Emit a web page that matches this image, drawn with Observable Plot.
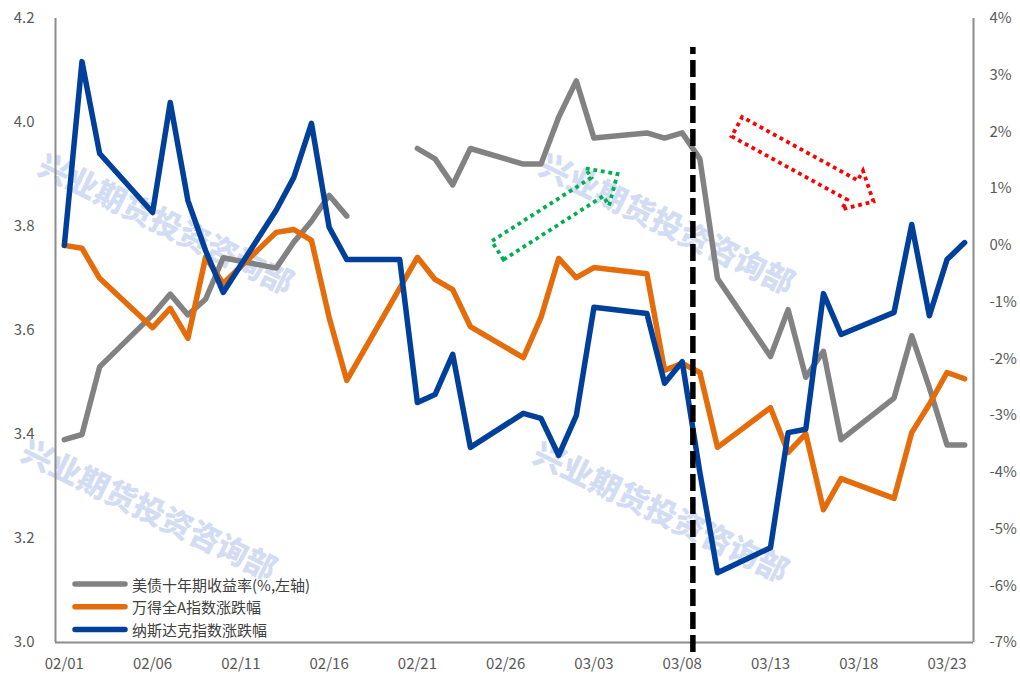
<!DOCTYPE html>
<html><head><meta charset="utf-8">
<script src="https://cdn.jsdelivr.net/npm/d3@7"></script>
<script src="https://cdn.jsdelivr.net/npm/@observablehq/plot@0.6"></script>
<style>
html,body{margin:0;padding:0;background:#fff;}
#chart{position:relative;width:1020px;height:677px;overflow:hidden;}
</style></head><body><div id="chart"></div>
<script>
// ---- data (2023) ----
const dates = ["02/01","02/02","02/03","02/06","02/07","02/08","02/09","02/10","02/13","02/14","02/15","02/16","02/17","02/20","02/21","02/22","02/23","02/24","02/27","02/28","03/01","03/02","03/03","03/06","03/07","03/08","03/09","03/10","03/13","03/14","03/15","03/16","03/17","03/20","03/21","03/22","03/23","03/24"];
// 美债十年期收益率 (%, left axis)
const yield10y = [3.39,3.40,3.53,3.63,3.67,3.63,3.66,3.74,3.72,3.77,3.81,3.86,3.82,null,3.95,3.93,3.88,3.95,3.92,3.92,4.01,4.08,3.97,3.98,3.97,3.98,3.93,3.70,3.55,3.64,3.51,3.56,3.39,3.47,3.59,3.49,3.38,3.38];
// 万得全A指数涨跌幅 (%, right axis)
const windA = [0.00,-0.05,-0.58,-1.45,-1.11,-1.64,-0.21,-0.67,0.23,0.28,0.09,-1.27,-2.38,null,-0.21,-0.60,-0.78,-1.43,-1.98,-1.27,-0.23,-0.57,-0.39,-0.50,-2.20,-2.08,-2.24,-3.56,-2.86,-3.65,-3.32,-4.66,-4.11,-4.46,-3.30,-2.80,-2.24,-2.35];
// 纳斯达克指数涨跌幅 (%, right axis)
const nasdaq = [0.00,3.24,1.62,0.58,2.52,0.79,-0.09,-0.83,0.62,1.20,2.15,0.32,-0.25,-0.25,-2.77,-2.63,-1.92,-3.56,-2.96,-3.05,-3.70,-3.00,-1.09,-1.20,-2.43,-2.05,-4.00,-5.77,-5.33,-3.30,-3.24,-0.85,-1.57,-1.18,0.37,-1.24,-0.25,0.05];
const xTicks = ["02/01","02/06","02/11","02/16","02/21","02/26","03/03","03/08","03/13","03/18","03/23"];
const leftTicks = [3.0,3.2,3.4,3.6,3.8,4.0,4.2];
const rightTicks = [-7,-6,-5,-4,-3,-2,-1,0,1,2,3,4];
const seriesNames = ["美债十年期收益率(%,左轴)","万得全A指数涨跌幅","纳斯达克指数涨跌幅"];
const seriesColors = ["#828282","#E46C0A","#00409A"];
const eventLine = ["2023-03-08T14:30Z"];
const arrows = [
  {from:["2023-02-25T13:40Z",3.753], to:["2023-03-04T08:40Z",3.900], color:"#00B050"},
  {from:["2023-03-11T03:00Z",3.991], to:["2023-03-18T20:40Z",3.847], color:"#FF0000"}
];
const watermark = "兴业期货投资咨询部";

// ---- helpers ----
const parse = s => { const [m,d] = s.split("/").map(Number); return new Date(Date.UTC(2023, m-1, d)); };
const L0 = 3.0, L1 = 4.2, R0 = -7, R1 = 4;
const toLeft = p => L0 + (p - R0) * (L1 - L0) / (R1 - R0);
const toRight = v => Math.round(R0 + (v - L0) * (R1 - R0) / (L1 - L0));
const rows = dates.map((s,i) => ({date: parse(s), y10: yield10y[i], wa: windA[i], nq: nasdaq[i]}));
const x0 = new Date(Date.UTC(2023,0,31,12)), x1 = new Date(Date.UTC(2023,2,24,12));
const axisColor = "#8c8c8c";
const font = "'Noto Sans CJK SC','Noto Sans',sans-serif";
const LW = 5.5;

const plot = Plot.plot({
  width: 1020, height: 677,
  marginLeft: 55, marginRight: 47, marginTop: 18, marginBottom: 35,
  style: {fontFamily: font, fontSize: "15px", color: "#595959", background: "#fff", overflow: "visible"},
  x: {type: "utc", domain: [x0, x1]},
  y: {domain: [L0, L1]},
  marks: [
    Plot.axisX({ticks: xTicks.map(parse), tickFormat: d3.utcFormat("%m/%d"), tickSize: 0, tickPadding: 16, label: null, fontSize: 15, fill: "#595959"}),
    Plot.axisY({anchor: "left", ticks: leftTicks, tickFormat: d3.format(".1f"), tickSize: 0, tickPadding: 21, label: null, fontSize: 15, fill: "#595959"}),
    Plot.axisY({anchor: "right", ticks: rightTicks.map(toLeft), tickFormat: v => toRight(v) + "%", tickSize: 0, tickPadding: 16, label: null, fontSize: 15, fill: "#595959"}),
    Plot.ruleX([x0, x1], {y1: L0, y2: L1, stroke: axisColor, strokeWidth: 2}),
    Plot.ruleY([L0], {stroke: axisColor, strokeWidth: 2}),
    Plot.line(rows, {x: "date", y: "y10", stroke: seriesColors[0], strokeWidth: LW, strokeLinejoin: "round"}),
    Plot.line(rows.filter(d => d.wa != null), {x: "date", y: d => toLeft(d.wa), stroke: seriesColors[1], strokeWidth: LW, strokeLinejoin: "round"}),
    Plot.line(rows.filter(d => d.nq != null), {x: "date", y: d => toLeft(d.nq), stroke: seriesColors[2], strokeWidth: LW, strokeLinejoin: "round"}),
    Plot.ruleX(eventLine, {x: d => new Date(d), y1: 2.981, y2: 4.144, stroke: "#000", strokeWidth: 5.5, strokeDasharray: "17,6"})
  ]
});

const svg = d3.select(plot);
// watermarks behind everything
const wm = svg.insert("g", ":first-child").attr("class", "watermark");
[[167,222],[668,222],[150,508],[662,510]].forEach(([cx,cy]) => {
  wm.append("text").attr("transform", `translate(${cx},${cy}) rotate(26)`)
    .attr("text-anchor","middle").attr("dominant-baseline","central")
    .attr("font-family", font).attr("font-weight", 900).attr("font-size", 31)
    .attr("fill", "#d2dcf2").text(watermark);
});
// dotted block arrows
const sx = plot.scale("x"), sy = plot.scale("y");
function blockArrow(p0, p1, shaftW, headW, headL) {
  const dx = p1[0]-p0[0], dy = p1[1]-p0[1], len = Math.hypot(dx,dy);
  const ux = dx/len, uy = dy/len, nx = -uy, ny = ux;
  const bx = p1[0]-ux*headL, by = p1[1]-uy*headL;
  return [
    [p0[0]+nx*shaftW/2, p0[1]+ny*shaftW/2],
    [bx+nx*shaftW/2, by+ny*shaftW/2],
    [bx+nx*headW/2, by+ny*headW/2],
    p1,
    [bx-nx*headW/2, by-ny*headW/2],
    [bx-nx*shaftW/2, by-ny*shaftW/2],
    [p0[0]-nx*shaftW/2, p0[1]-ny*shaftW/2]
  ];
}
const ag = svg.append("g");
arrows.forEach(a => {
  const p0 = [sx.apply(new Date(a.from[0])), sy.apply(a.from[1])];
  const p1 = [sx.apply(new Date(a.to[0])), sy.apply(a.to[1])];
  const pts = blockArrow(p0, p1, 22, 44, 24);
  ag.append("path").attr("d", "M" + pts.map(p => p.join(",")).join("L") + "Z")
    .attr("fill","none").attr("stroke", a.color).attr("stroke-width", 3.8)
    .attr("stroke-dasharray","3.8,3.8").attr("stroke-linejoin","miter");
});
// legend
const lg = svg.append("g").attr("font-family", font).attr("font-size", 15).attr("fill", "#404040").attr("text-anchor", "start");
seriesNames.forEach((name, i) => {
  const y = 584 + i * 22.7;
  lg.append("line").attr("x1", 75).attr("x2", 125).attr("y1", y).attr("y2", y)
    .attr("stroke", seriesColors[i]).attr("stroke-width", 5.5).attr("stroke-linecap", "round");
  lg.append("text").attr("x", 132).attr("y", y).attr("dominant-baseline", "central").attr("text-anchor", "start").text(name);
});
document.getElementById("chart").appendChild(plot);
</script></body></html>
